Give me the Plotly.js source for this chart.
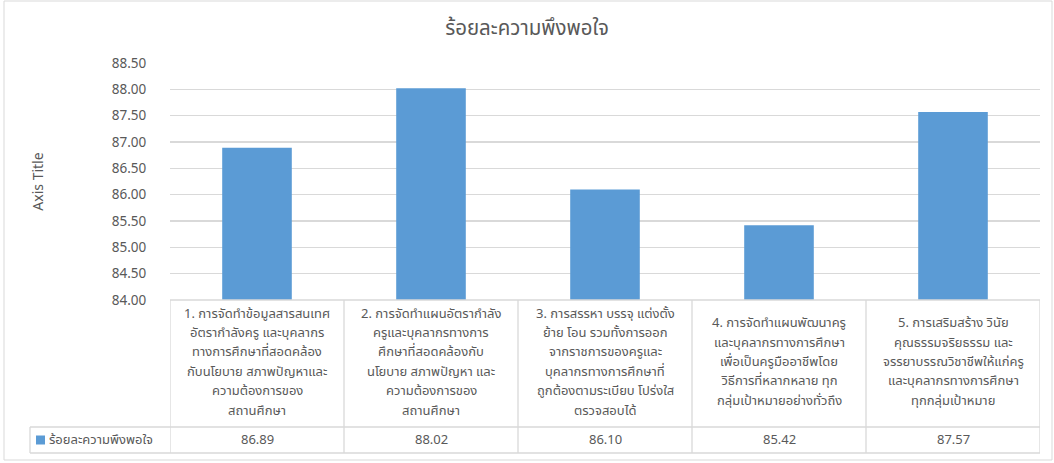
<!DOCTYPE html>
<html>
<head>
<meta charset="utf-8">
<script src="https://cdn.plot.ly/plotly-3.0.1.min.js"></script>
<style>
  html, body { margin: 0; padding: 0; background: #fff; }
  #chart { width: 1054px; height: 463px; }
</style>
</head>
<body>
<div id="chart"></div>
<script>
// ---- data ----
const chartTitle = "ร้อยละความพึงพอใจ";
const seriesName = "ร้อยละความพึงพอใจ";
const yAxisTitle = "Axis Title";
const categoryLines = [
  ["1. การจัดทำข้อมูลสารสนเทศ", "อัตรากำลังครู และบุคลากร", "ทางการศึกษาที่สอดคล้อง", "กับนโยบาย สภาพปัญหาและ", "ความต้องการของ", "สถานศึกษา"],
  ["2. การจัดทำแผนอัตรากำลัง", "ครูและบุคลากรทางการ", "ศึกษาที่สอดคล้องกับ", "นโยบาย สภาพปัญหา และ", "ความต้องการของ", "สถานศึกษา"],
  ["3. การสรรหา บรรจุ แต่งตั้ง", "ย้าย โอน รวมทั้งการออก", "จากราชการของครูและ", "บุคลากรทางการศึกษาที่", "ถูกต้องตามระเบียบ โปร่งใส", "ตรวจสอบได้"],
  ["4. การจัดทำแผนพัฒนาครู", "และบุคลากรทางการศึกษา", "เพื่อเป็นครูมืออาชีพโดย", "วิธีการที่หลากหลาย ทุก", "กลุ่มเป้าหมายอย่างทั่วถึง"],
  ["5. การเสริมสร้าง วินัย", "คุณธรรมจริยธรรม และ", "จรรยาบรรณวิชาชีพให้แก่ครู", "และบุคลากรทางการศึกษา", "ทุกกลุ่มเป้าหมาย"]
];
const values = [86.89, 88.02, 86.10, 85.42, 87.57];
const yRange = [84, 88.5];
const yStep = 0.5;

// ---- layout helpers ----
const W = 1054, H = 463;
const M = { l: 170, r: 14, t: 63, b: 163 };
const plotW = W - M.l - M.r, plotH = H - M.t - M.b;
const px = x => (x - M.l) / plotW;          // pixel x -> paper
const py = y => (H - M.b - y) / plotH;      // pixel y -> paper

const FONT = "'Noto Sans Thai', 'Noto Sans', 'DejaVu Sans', sans-serif";
const GREY = "#595959";
const LINE = "#d9d9d9";
const BAR = "#5b9bd5";

const idx = values.map((_, i) => i);
const n = values.length;

const rowTop = 300, rowMid = 427, rowBot = 453;
const lineGap = 19.4;
const labelCenter = 362;

const shapes = [];
// outer chart border
shapes.push({ type: "rect", xref: "paper", yref: "paper", x0: px(4), x1: px(1052), y0: py(1), y1: py(460), line: { color: LINE, width: 1 } });
// table horizontal lines
shapes.push({ type: "line", xref: "x", yref: "paper", x0: -0.5, x1: n - 0.5, y0: py(rowTop), y1: py(rowTop), line: { color: LINE, width: 1.3 } });
shapes.push({ type: "line", xref: "paper", yref: "paper", x0: px(30), x1: 1, y0: py(rowMid), y1: py(rowMid), line: { color: LINE, width: 1.3 } });
shapes.push({ type: "line", xref: "paper", yref: "paper", x0: px(30), x1: 1, y0: py(rowBot), y1: py(rowBot), line: { color: LINE, width: 1.3 } });
// vertical lines at category boundaries
for (let i = 0; i <= n; i++) {
  shapes.push({ type: "line", xref: "x", yref: "paper", x0: i - 0.5, x1: i - 0.5, y0: py(rowTop), y1: py(rowBot), line: { color: LINE, width: 1.3 } });
}
shapes.push({ type: "line", xref: "paper", yref: "paper", x0: px(30), x1: px(30), y0: py(rowMid), y1: py(rowBot), line: { color: LINE, width: 1.3 } });
// legend key square
shapes.push({ type: "rect", xref: "paper", yref: "paper", x0: px(36), x1: px(45), y0: py(444.5), y1: py(435.5), line: { width: 0 }, fillcolor: BAR });

const annotations = [];
categoryLines.forEach((lines, i) => {
  const k = lines.length;
  lines.forEach((ln, j) => {
    annotations.push({
      xref: "x", yref: "paper", x: i, y: py(labelCenter + (j - (k - 1) / 2) * lineGap),
      text: ln, showarrow: false, xanchor: "center", yanchor: "middle",
      align: "center", font: { family: FONT, size: 13, color: GREY }
    });
  });
});
values.forEach((v, i) => {
  annotations.push({
    xref: "x", yref: "paper", x: i, y: py((rowMid + rowBot) / 2),
    text: v.toFixed(2), showarrow: false, xanchor: "center", yanchor: "middle",
    font: { family: FONT, size: 13, color: GREY }
  });
});
annotations.push({
  xref: "paper", yref: "paper", x: px(47), y: py((rowMid + rowBot) / 2),
  text: seriesName, showarrow: false, xanchor: "left", yanchor: "middle",
  font: { family: FONT, size: 13, color: GREY }
});

const data = [{
  type: "bar",
  x: idx,
  y: values,
  name: seriesName,
  marker: { color: BAR },
  hoverinfo: "skip"
}];

const layout = {
  width: W, height: H,
  margin: M,
  paper_bgcolor: "#fff",
  plot_bgcolor: "#fff",
  showlegend: false,
  bargap: 0.6,
  title: {
    text: chartTitle,
    x: 0.5, xref: "container", xanchor: "center",
    y: 1 - 28 / H, yref: "container", yanchor: "middle",
    font: { family: FONT, size: 20.5, color: GREY }
  },
  xaxis: {
    range: [-0.5, n - 0.5],
    showticklabels: false,
    showgrid: false,
    zeroline: false,
    showline: false,
    ticks: "",
    fixedrange: true
  },
  yaxis: {
    range: yRange,
    dtick: yStep,
    tick0: yRange[0],
    tickformat: ".2f",
    showgrid: true,
    gridcolor: LINE,
    gridwidth: 1.3,
    zeroline: false,
    showline: false,
    ticks: "outside",
    ticklen: 20,
    tickcolor: "rgba(0,0,0,0)",
    tickfont: { family: FONT, size: 13.5, color: GREY },
    title: { text: yAxisTitle, font: { family: FONT, size: 14, color: GREY }, standoff: 64 },
    automargin: false,
    fixedrange: true
  },
  shapes: shapes,
  annotations: annotations
};

Plotly.newPlot("chart", data, layout, { displayModeBar: false, staticPlot: true });
</script>
</body>
</html>
